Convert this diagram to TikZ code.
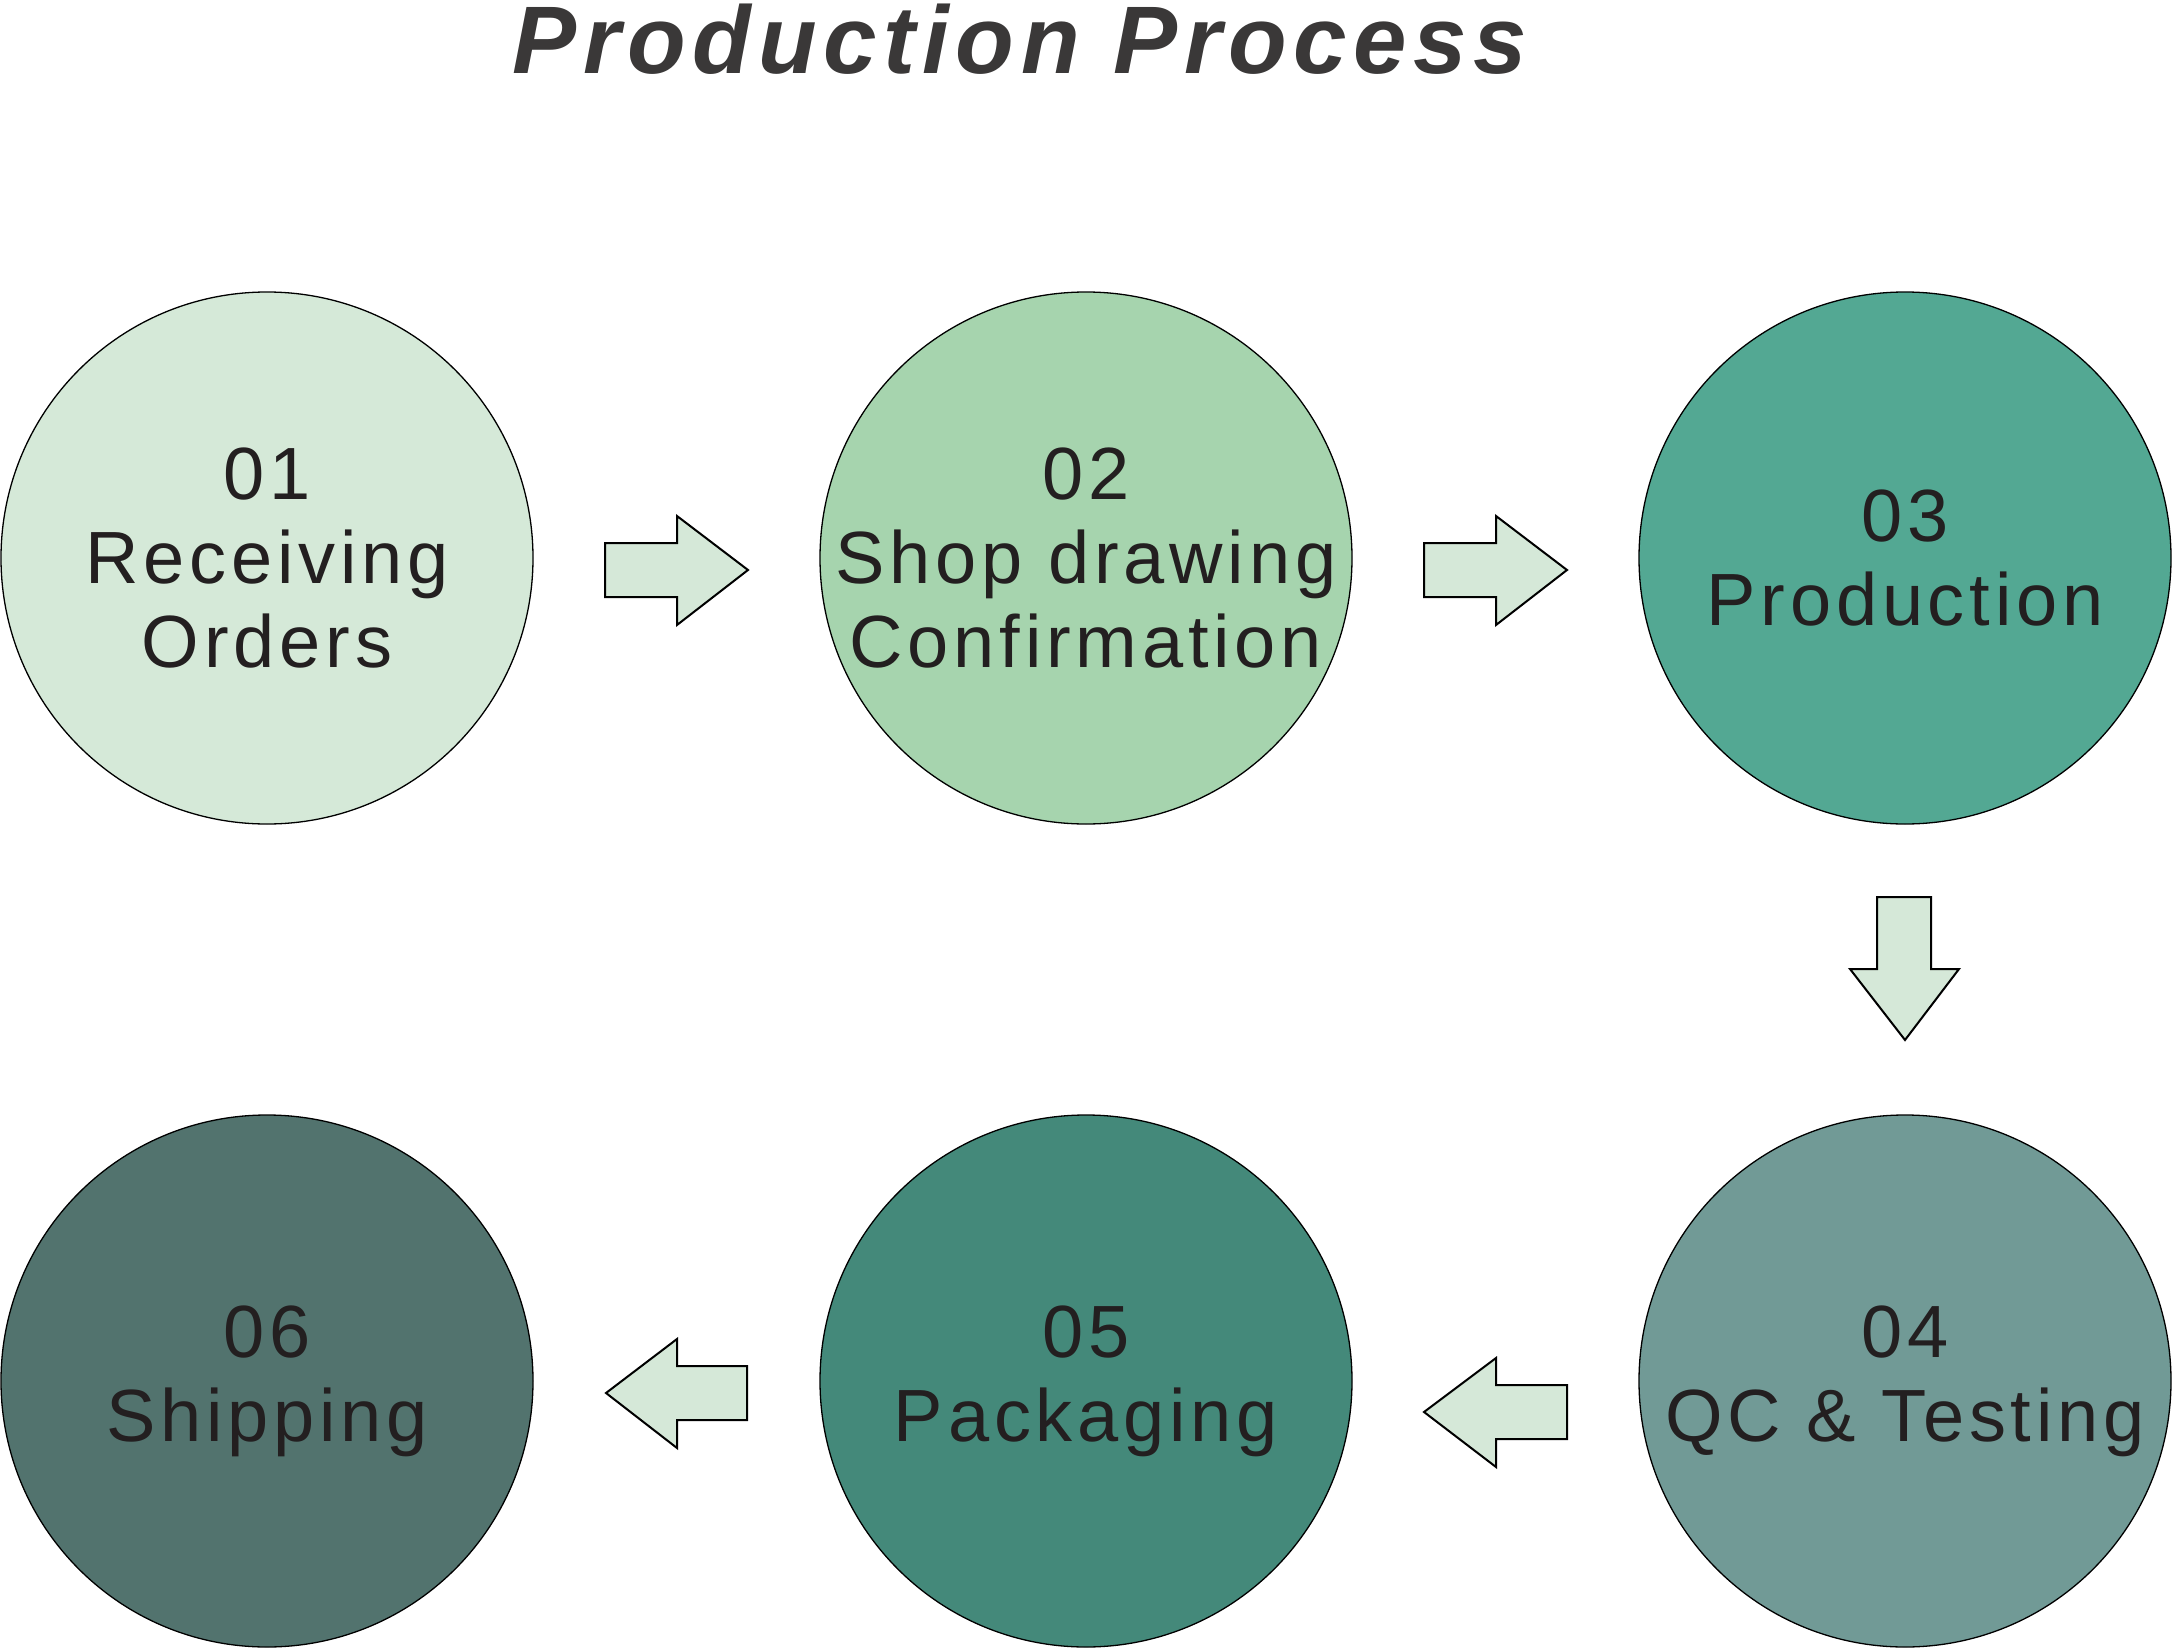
\documentclass[tikz,border=0pt]{standalone}
\usepackage{fontspec}
\setmainfont{Liberation Sans}
\newfontfamily\bodyfont[LetterSpace=6.5]{Liberation Sans}
\newfontfamily\titlefont[LetterSpace=7]{Liberation Sans}
\definecolor{cOne}{HTML}{D5E9D8}
\definecolor{cTwo}{HTML}{A6D4AE}
\definecolor{cThree}{HTML}{53A893}
\definecolor{cFour}{HTML}{719A96}
\definecolor{cFive}{HTML}{44897A}
\definecolor{cSix}{HTML}{52736E}
\definecolor{arrowfill}{HTML}{D5E8D8}
\definecolor{txt}{HTML}{231F20}
\definecolor{titletxt}{HTML}{3A3838}
\tikzset{
  stepcircle/.style={circle, draw=black, line width=1.3pt, minimum size=532pt, inner sep=0pt},
  steptext/.style={align=center, text=txt, inner sep=0pt, font=\bodyfont\fontsize{74}{84}\selectfont},
  blockarrow/.style={draw=black, line width=2pt, fill=arrowfill, line join=miter}
}
\begin{document}
\begin{tikzpicture}[x=1pt,y=-1pt]
\useasboundingbox (0,0) rectangle (2172,1648);
\fill[white] (0,0) rectangle (2172,1648);
\node[anchor=base, text=titletxt, font=\titlefont\bfseries\itshape\fontsize{96}{104}\selectfont] (title) at (1020,74) {Production Process};

\node[stepcircle, fill=cOne]   (s1) at (267,558)  {};
\node[stepcircle, fill=cTwo]   (s2) at (1086,558) {};
\node[stepcircle, fill=cThree] (s3) at (1905,558) {};
\node[stepcircle, fill=cFour]  (s4) at (1905,1381) {};
\node[stepcircle, fill=cFive]  (s5) at (1086,1381) {};
\node[stepcircle, fill=cSix]   (s6) at (267,1381) {};

\node[steptext] (t1) at (s1.center) {01\\Receiving\\Orders};
\node[steptext] (t2) at (s2.center) {02\\Shop drawing\\Confirmation};
\node[steptext] (t3) at (s3.center) {03\\Production};
\node[steptext] (t4) at (s4.center) {04\\QC \& Testing};
\node[steptext] (t5) at (s5.center) {05\\Packaging};
\node[steptext] (t6) at (s6.center) {06\\Shipping};

% right arrows
\draw[blockarrow] (605,543) -- (677,543) -- (677,516) -- (748,570) -- (677,625) -- (677,597) -- (605,597) -- cycle;
\draw[blockarrow] (1424,543) -- (1496,543) -- (1496,516) -- (1567,570) -- (1496,625) -- (1496,597) -- (1424,597) -- cycle;
% down arrow
\draw[blockarrow] (1877,897) -- (1931,897) -- (1931,969) -- (1959,969) -- (1905,1040) -- (1850,969) -- (1877,969) -- cycle;
% left arrows
\draw[blockarrow] (1567,1385) -- (1496,1385) -- (1496,1358) -- (1424,1412) -- (1496,1467) -- (1496,1439) -- (1567,1439) -- cycle;
\draw[blockarrow] (747,1366) -- (677,1366) -- (677,1339) -- (606,1393) -- (677,1448) -- (677,1420) -- (747,1420) -- cycle;
\end{tikzpicture}
\end{document}
